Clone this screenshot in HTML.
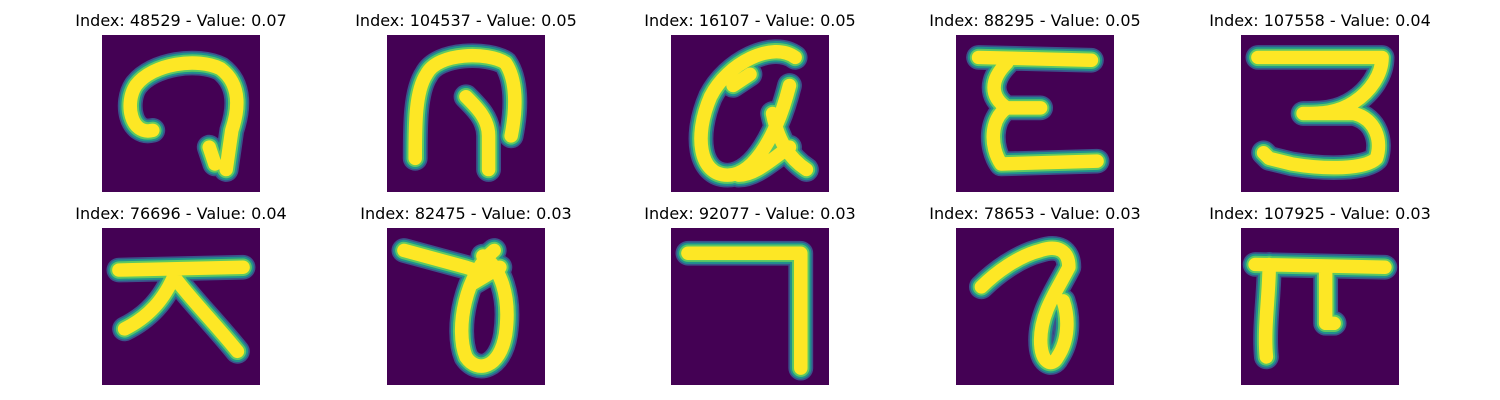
<!DOCTYPE html>
<html><head><meta charset="utf-8"><style>
body{margin:0;background:#fff;width:1500px;height:400px;overflow:hidden;position:relative;font-family:"DejaVu Sans","Liberation Sans",sans-serif}
.t{position:absolute;font-size:16px;line-height:18px;color:#000;text-align:center;width:300px;white-space:nowrap}
svg.p{position:absolute;width:158px;height:157px}
</style></head><body>
<script>
const indices=[48529,104537,16107,88295,107558,76696,82475,92077,78653,107925];
const values=["0.07","0.05","0.05","0.05","0.04","0.04","0.03","0.03","0.03","0.03"];
const strokes=[
"M9,17 C5,18 4,12 6,9 C9,5 17,4 21,6 C25,9 24,14 23,17 L22,24 M19,20 L20,23",
"M5,22 C5,16 5,10 7,7 C9,3 18,3 21,5 C23,8 23,13 22,18 M14,11 C16,13 18,15 18,18 L18,24",
"M22,4 C18,1 10,5 7,11 C4,18 5,25 10,25 C15,25 19,17 21,9 M11,9 L14,7 M18,14 C19,19 21,22 24,24 M21,20 C18,22 15,25 12,25",
"M24,4.5 L4,4 M9,5 C6,8 6,11 9,13 L15,13 M9,13 C6,15 6,20 8,23 L25,22.5",
"M3,4 L25,4 C25,7 23,10 20,12 C17,14 14,14 11,14 L20,14 C24,15 25,19 24,22 C22,24 15,24 9,23 L5,22 L4,21",
"M3,7.5 L25,7 M13,8 C11,13 8,16 4,18 M13,9 C16,13 20,17 24,22",
"M3,4 L14,7 L17,8 M19,4 C14,8 12,18 14,23 C16,26 20,25 21,19 C22,12 20,7 17,5 M15,10 L20,7",
"M3,4.5 L23,4.5 L23,25",
"M4.5,10.5 C7,8 11,5 15,4 C18,3 20,4 20,7 C18,11 15,15 15,20 C15,24 17,25 18,23 C20,20 20,16 19,13",
"M2.5,6.5 L25.5,7 M5,6.5 C5,12 4,18 4.5,23 M15,7 L15,17 L16.5,17"
];
const cols=[102,387,671,956,1241], rows=[35,228];
for(let i=0;i<10;i++){
  const x=cols[i%5], y=rows[Math.floor(i/5)];
  const t=document.createElement('div');
  t.className='t';
  
  
  t.style.left=(x+79-150)+'px'; t.style.top=(y-23)+'px';
  t.textContent='Index: '+indices[i]+' - Value: '+values[i];
  document.body.appendChild(t);
  const s=document.createElementNS('http://www.w3.org/2000/svg','svg');
  s.setAttribute('class','p');
  
  
  s.setAttribute('viewBox','0 0 28 28');
  s.setAttribute('preserveAspectRatio','none');
  s.style.left=x+'px'; s.style.top=y+'px';
  const d=strokes[i];
  s.innerHTML='<rect width="28" height="28" fill="#440154"/>'+
   [['#3b528b',4.4],['#21918c',3.8],['#5ec962',3.1],['#fde725',2.4]].map(([c,w])=>
   `<path d="${d}" fill="none" stroke="${c}" stroke-width="${w}" stroke-linecap="round" stroke-linejoin="round"/>`).join('');
  document.body.appendChild(s);
}
</script>
</body></html>
